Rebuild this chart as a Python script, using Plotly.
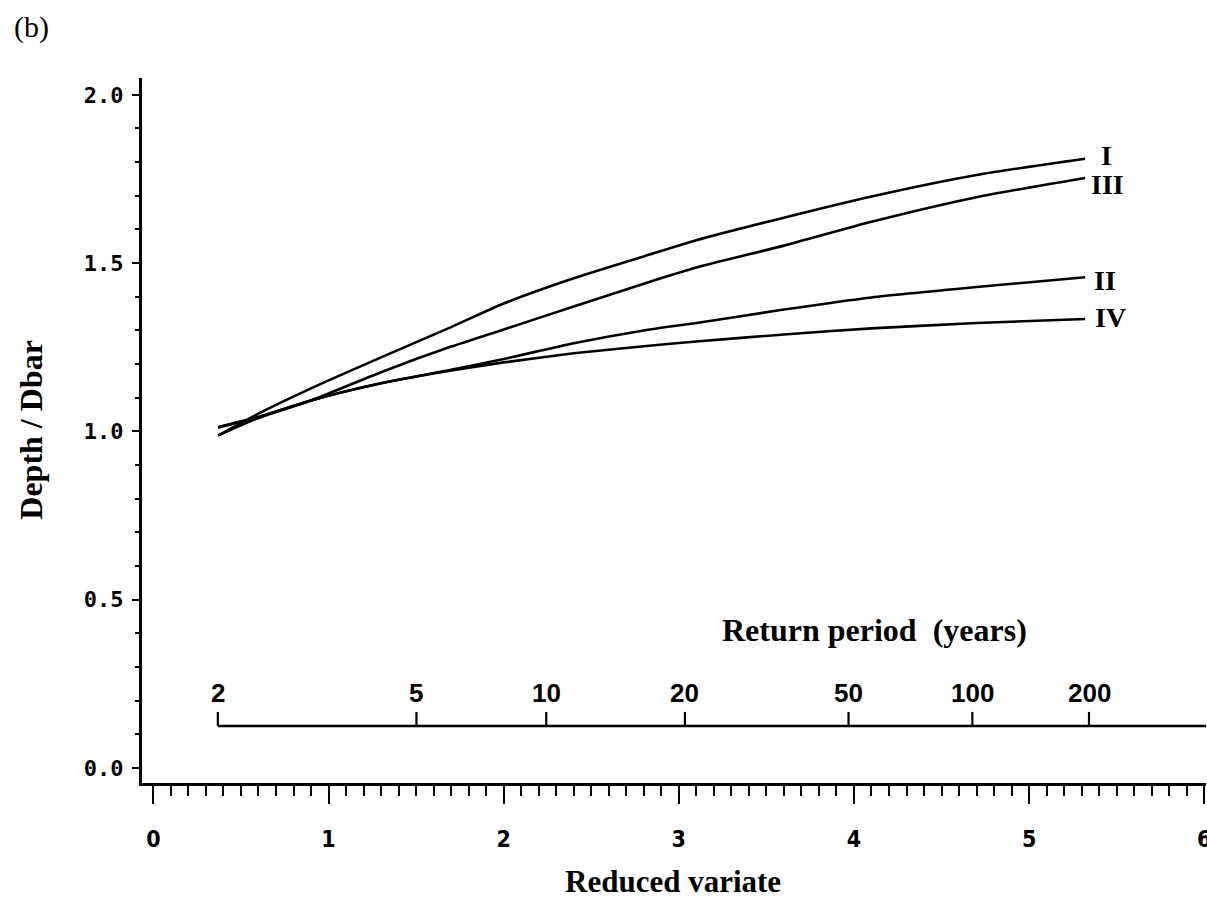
import plotly.graph_objects as go

# ---------------- data ----------------
reduced_variate = [0.37, 0.6, 0.9, 1.3, 1.7, 2.0, 2.4, 2.8, 3.1, 3.6, 4.1, 4.7, 5.32]
curve_I   = [0.988, 1.053, 1.128, 1.220, 1.310, 1.380, 1.455, 1.520, 1.568, 1.635, 1.698, 1.762, 1.810]
curve_III = [0.988, 1.040, 1.092, 1.176, 1.252, 1.303, 1.371, 1.439, 1.487, 1.552, 1.623, 1.696, 1.753]
curve_II  = [1.012, 1.043, 1.092, 1.143, 1.183, 1.215, 1.262, 1.300, 1.322, 1.362, 1.398, 1.429, 1.458]
curve_IV  = [1.012, 1.043, 1.092, 1.143, 1.181, 1.205, 1.232, 1.253, 1.267, 1.288, 1.306, 1.322, 1.334]

curve_names = ["I", "III", "II", "IV"]
curve_values = [curve_I, curve_III, curve_II, curve_IV]

x_tick_values = [0, 1, 2, 3, 4, 5, 6]
y_tick_values = [0.0, 0.5, 1.0, 1.5, 2.0]
y_tick_labels = ["0.0", "0.5", "1.0", "1.5", "2.0"]

return_period_labels = ["2", "5", "10", "20", "50", "100", "200"]
return_period_positions = [0.368, 1.502, 2.243, 3.035, 3.969, 4.676, 5.342]

# ---------------- styling ----------------
X_RANGE = [-0.065, 6.01]
Y_RANGE = [-0.0446, 2.05]
RP_AXIS_Y = 0.125
label_shift = {"I": (21, 3), "III": (22, -7), "II": (20, -3), "IV": (25, 1)}

serif = "Liberation Serif, Times New Roman, serif"
tickfont_family = "DejaVu Sans Condensed, Liberation Sans Narrow, DejaVu Sans Mono, sans-serif"

fig = go.Figure()
for name, vals in zip(curve_names, curve_values):
    fig.add_trace(go.Scatter(
        x=reduced_variate, y=vals, mode="lines", name=name,
        line=dict(color="black", width=2.6, shape="spline", smoothing=0.6),
        showlegend=False, hoverinfo="skip"))

annotations = []
for name, vals in zip(curve_names, curve_values):
    dx, dy = label_shift[name]
    annotations.append(dict(
        x=reduced_variate[-1], y=vals[-1], xref="x", yref="y",
        text=f"<b>{name}</b>", showarrow=False, xshift=dx, yshift=dy,
        xanchor="center", yanchor="middle",
        font=dict(family=serif, size=28, color="black")))

# return-period secondary scale
shapes = [dict(type="line", xref="x", yref="y",
               x0=return_period_positions[0], x1=X_RANGE[1],
               y0=RP_AXIS_Y, y1=RP_AXIS_Y,
               line=dict(color="black", width=2.5))]
for pos, lab in zip(return_period_positions, return_period_labels):
    shapes.append(dict(type="line", xref="x", yref="y", ysizemode="pixel",
                       yanchor=RP_AXIS_Y, x0=pos, x1=pos, y0=0, y1=14,
                       line=dict(color="black", width=2.2)))
    annotations.append(dict(
        x=pos, y=RP_AXIS_Y, xref="x", yref="y", text=f"<b>{lab}</b>",
        showarrow=False, xanchor="center", yanchor="bottom", yshift=16,
        font=dict(family="Liberation Sans, Arial, sans-serif", size=26, color="black")))

annotations += [
    dict(x=0.6885, y=0.217, xref="paper", yref="paper",
         text="<b>Return period  (years)</b>", showarrow=False,
         xanchor="center", yanchor="middle",
         font=dict(family=serif, size=32, color="black")),
    dict(x=0.4995, y=-0.140, xref="paper", yref="paper",
         text="<b>Reduced variate</b>", showarrow=False,
         xanchor="center", yanchor="middle",
         font=dict(family=serif, size=31, color="black")),
    dict(x=-0.1046, y=0.5007, xref="paper", yref="paper",
         text="<b>Depth / Dbar</b>", showarrow=False, textangle=-90,
         xanchor="center", yanchor="middle",
         font=dict(family=serif, size=32, color="black")),
    dict(x=-0.1038, y=1.072, xref="paper", yref="paper",
         text="(b)", showarrow=False, xanchor="center", yanchor="middle",
         font=dict(family=serif, size=30, color="black")),
]

# plot area runs slightly past the right edge of the window, as in the cropped original
fig.update_layout(
    width=1211, height=903,
    margin=dict(l=142, r=0, t=78, b=120),
    paper_bgcolor="white", plot_bgcolor="white",
    shapes=shapes, annotations=annotations,
    xaxis=dict(range=X_RANGE, tickvals=x_tick_values, ticks="outside",
               ticklen=18, tickwidth=2.2, tickcolor="black",
               showline=True, linewidth=3, linecolor="black",
               showgrid=False, zeroline=False, ticklabelstandoff=15,
               ticklabeloverflow="allow",
               tickfont=dict(family=tickfont_family, size=23, color="black", weight="bold"),
               minor=dict(dtick=0.1, ticks="outside", ticklen=10,
                          tickwidth=2, tickcolor="black", showgrid=False)),
    yaxis=dict(range=Y_RANGE, tickvals=y_tick_values, ticktext=y_tick_labels,
               ticks="outside", ticklen=7, tickwidth=2.2, tickcolor="black",
               showline=True, linewidth=3, linecolor="black",
               showgrid=False, zeroline=False, ticklabelstandoff=4,
               tickfont=dict(family="DejaVu Sans Mono, monospace", size=22, color="black", weight="bold"),
               minor=dict(dtick=0.1, ticks="outside", ticklen=4,
                          tickwidth=2, tickcolor="black", showgrid=False)),
)

# remove the page's default 8 px body margin so the figure fills the window exactly
fig.write_html("out.html",
               config={"displayModeBar": False},
               post_script="document.body.style.margin='0';document.body.style.overflow='hidden';")
